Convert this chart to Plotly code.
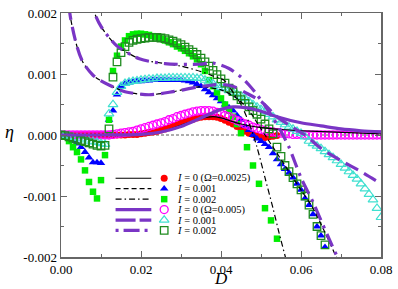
import plotly.graph_objects as go

# ---------------- data ----------------
# Simulation markers, Omega = 0.0025 (filled)
D_red = [0.000,0.001,0.002,0.003,0.004,0.005,0.006,0.007,0.008,0.009,0.010,0.011,0.012,0.013,0.014,0.015,0.016,0.017,0.018,0.019,
         0.020,0.021,0.022,0.023,0.024,0.025,0.026,0.027,0.028,0.029,0.030,0.031,0.032,0.033,0.034,0.035,0.036,0.037,0.038,0.039,
         0.040,0.041,0.042,0.043,0.044,0.045,0.046,0.047,0.048,0.049,0.050,0.051,0.052,0.053,0.054]
eta_red = [0,0,0,0,0,0,0,0,0,0,0,0,0,0,0,0,0,0.00001,0.00001,0.00001,
           0.00002,0.00003,0.00004,0.00005,0.00006,0.00008,0.0001,0.00012,0.00014,0.00017,0.0002,0.00022,0.00024,0.00026,0.00028,0.00029,0.0003,0.0003,0.0003,0.00029,
           0.00027,0.00024,0.00021,0.00018,0.00014,0.0001,0.00006,0.00003,0.00001,-0.00002,-0.00003,-0.00004,-0.00003,-0.00002,-0.00001]

D_blue = [0.000,0.001,0.002,0.003,0.004,0.005,0.006,0.007,0.008,0.009,0.010,0.012,0.013,0.014,0.015,0.016,0.017,0.018,0.019,0.020,
          0.021,0.022,0.023,0.024,0.025,0.026,0.027,0.028,0.029,0.030,0.031,0.032,0.033,0.034,0.035,0.036,0.037,0.038,0.039,0.040,
          0.041,0.042,0.043,0.044,0.045,0.046,0.047,0.048,0.049,0.050,0.051,0.052,0.053,0.054,0.055,0.056,0.057,0.058,0.059,0.060,
          0.061,0.062,0.063,0.064,0.065,0.066]
eta_blue = [0,-0.00002,-0.00005,-0.0001,-0.00014,-0.0002,-0.00028,-0.00037,-0.00045,-0.00045,-0.00046,0.00025,0.0004,0.00066,0.0008,0.00084,0.00086,0.00087,0.00088,0.00088,
            0.00089,0.00089,0.0009,0.0009,0.0009,0.0009,0.0009,0.0009,0.0009,0.0009,0.00089,0.00088,0.00086,0.00083,0.0008,0.00075,0.0007,0.00065,0.0006,0.00055,
            0.0005,0.00045,0.0004,0.00032,0.00025,0.00015,0.00008,0.0,-0.00006,-0.0001,-0.00015,-0.0002,-0.0003,-0.0004,-0.00048,-0.00056,-0.00062,-0.0007,-0.0008,-0.0009,
            -0.00104,-0.00115,-0.0013,-0.0015,-0.00165,-0.00184]

D_green = [0.000,0.001,0.002,0.003,0.004,0.005,0.006,0.007,0.008,0.009,0.010,0.011,0.012,0.013,0.014,0.015,0.016,0.017,0.018,0.019,
           0.020,0.021,0.022,0.023,0.024,0.025,0.026,0.027,0.028,0.029,0.030,0.031,0.032,0.033,0.034,0.035,0.036,0.037,0.038,0.039,
           0.040,0.041,0.042,0.043,0.044,0.045,0.0465,0.048,0.0495,0.051,0.0525,0.054]
eta_green = [0,-0.00002,-0.0001,-0.0002,-0.00028,-0.0004,-0.00058,-0.00077,-0.00093,-0.00104,-0.00074,-0.00033,0.00025,0.00105,0.0013,0.00145,0.00155,0.00162,0.00165,0.00166,
             0.00166,0.00165,0.00164,0.00162,0.0016,0.00158,0.00155,0.00152,0.00149,0.00145,0.00142,0.00138,0.00134,0.00129,0.00124,0.00116,0.00105,0.0009,0.0008,0.0007,
             0.0006,0.0005,0.0004,0.0003,0.00018,0.00003,-0.0002,-0.0005,-0.0008,-0.0012,-0.0014,-0.0017]

# Simulation markers, Omega = 0.005 (open)
D_mag = [0.000,0.001,0.002,0.003,0.004,0.005,0.006,0.007,0.008,0.009,0.010,0.011,0.012,0.013,0.014,0.015,0.016,0.017,0.018,0.019,
         0.020,0.021,0.022,0.023,0.024,0.025,0.026,0.027,0.028,0.029,0.030,0.031,0.032,0.033,0.034,0.035,0.036,0.037,0.038,0.039,
         0.040,0.041,0.042,0.043,0.044,0.045,0.046,0.047,0.048,0.049,0.050,0.051,0.052,0.053,0.054,0.055,0.056,0.057,0.058,0.059,
         0.060,0.061,0.062,0.063,0.064,0.065,0.066,0.067,0.068,0.069,0.070,0.071,0.072,0.073,0.074,0.075,0.076,0.077,0.078,0.079,0.080]
eta_mag = [0,0,0,0,0,0,0,0,0,0,0,0,0,0.00001,0.00002,0.00003,0.00004,0.00005,0.00006,0.00008,
           0.0001,0.00012,0.00014,0.00016,0.00018,0.0002,0.00022,0.00025,0.00027,0.0003,0.00032,0.00034,0.00036,0.00038,0.00039,0.0004,0.0004,0.0004,0.00039,0.00037,
           0.00035,0.00032,0.0003,0.00027,0.00024,0.00021,0.00018,0.00016,0.00013,0.00011,0.00009,0.00007,0.00006,0.00005,0.00004,0.00003,0.00002,0.00002,0.00001,0.00001,
           0.00001,0,0,0,0,0,0,0,0,0,0,0,0,0,0,0,0,0,0,0,0]

D_cyan = [0.000,0.001,0.002,0.003,0.004,0.005,0.006,0.007,0.008,0.009,0.010,0.011,0.012,0.013,0.014,0.015,0.016,0.017,0.018,0.019,
          0.020,0.021,0.022,0.023,0.024,0.025,0.026,0.027,0.028,0.029,0.030,0.031,0.032,0.033,0.034,0.035,0.036,0.037,0.038,0.039,
          0.040,0.041,0.042,0.043,0.044,0.045,0.046,0.047,0.048,0.049,0.050,0.051,0.052,0.053,0.054,0.055,0.056,0.057,0.058,0.059,
          0.060,0.061,0.062,0.063,0.064,0.065,0.066,0.067,0.068,0.069,0.070,0.071,0.072,0.073,0.074,0.075,0.076,0.077,0.078,0.079,0.080]
eta_cyan = [0,-0.00001,-0.00002,-0.00004,-0.00005,-0.00006,-0.00008,-0.0001,-0.00011,-0.00012,-0.00014,-0.00015,0.00035,0.0005,0.0007,0.0008,0.00085,0.00087,0.00088,0.00089,
            0.0009,0.00091,0.00092,0.00092,0.00093,0.00093,0.00093,0.00094,0.00094,0.00094,0.00094,0.00094,0.00094,0.00094,0.00093,0.00093,0.0009,0.00087,0.00084,0.00081,
            0.00078,0.00076,0.00073,0.0007,0.00067,0.00064,0.0006,0.00055,0.0005,0.00046,0.00042,0.00038,0.00034,0.0003,0.00025,0.00021,0.00017,0.00013,0.0001,0.00006,
            0.00003,-0.00003,-0.0001,-0.00014,-0.00018,-0.00022,-0.00027,-0.00032,-0.00037,-0.00042,-0.00048,-0.00054,-0.0006,-0.00066,-0.00072,-0.0008,-0.00088,-0.00097,-0.00106,-0.0012,-0.00135]

D_dkg = [0.000,0.001,0.002,0.003,0.004,0.005,0.006,0.007,0.008,0.009,0.010,0.011,0.012,0.013,0.014,0.015,0.016,0.017,0.018,0.019,
         0.020,0.021,0.022,0.023,0.024,0.025,0.026,0.027,0.028,0.029,0.030,0.031,0.032,0.033,0.034,0.035,0.036,0.037,0.038,0.039,
         0.040,0.041,0.042,0.043,0.044,0.045,0.046,0.047,0.048,0.049,0.050,0.051,0.052,0.053,0.054,0.055,0.056,0.057,0.058,0.059,
         0.060,0.061,0.062,0.063,0.064,0.065,0.066]
eta_dkg = [0,-0.00001,-0.00003,-0.00005,-0.00007,-0.00009,-0.00011,-0.00013,-0.00015,-0.00017,-0.00018,-0.00017,0.0001,0.00095,0.0012,0.00135,0.00145,0.00152,0.00155,0.00157,
           0.00158,0.00159,0.0016,0.0016,0.0016,0.00159,0.00158,0.00156,0.00154,0.00151,0.00148,0.00144,0.0014,0.00136,0.00132,0.00126,0.0012,0.00113,0.00106,0.00099,
           0.00092,0.00085,0.00077,0.00071,0.00064,0.00058,0.00052,0.00046,0.0004,0.00034,0.00026,0.00018,0.0001,0.00002,-0.0002,-0.00035,-0.0005,-0.0006,-0.0007,-0.0008,
           -0.0009,-0.001,-0.00115,-0.0013,-0.0015,-0.00165,-0.0018]

# Theory curves, Omega = 0.0025 (black)
D_th0a = [0.0,0.01,0.02,0.025,0.03,0.035,0.038,0.04,0.042,0.045,0.05,0.055,0.06,0.067,0.08]
eta_th0a = [0,0,0.00001,0.00005,0.00016,0.00027,0.0003,0.00028,0.00024,0.00018,0.00012,0.00009,0.00007,0.00005,0.00002]

D_th1a = [0.0015,0.0022,0.004,0.0055,0.008,0.0097,0.012,0.016,0.022,0.028,0.0345,0.04,0.044,0.047,0.05,0.053,0.056,0.06,0.063,0.066,0.0695]
eta_th1a = [0.0028,0.002,0.00145,0.00119,0.00098,0.0009,0.00082,0.00071,0.00066,0.00071,0.00079,0.00074,0.0006,0.0004,0.0001,-0.0002,-0.0005,-0.0009,-0.0012,-0.0016,-0.0021]

D_th2a = [0.007,0.0084,0.01,0.012,0.014,0.0196,0.026,0.03,0.035,0.0375,0.0407,0.043,0.045,0.047,0.049,0.051,0.053,0.0545,0.0565]
eta_th2a = [0.0024,0.002,0.00178,0.0016,0.00146,0.00125,0.00117,0.00113,0.00104,0.00098,0.0009,0.0007,0.0005,0.0002,-0.0002,-0.0007,-0.0012,-0.0016,-0.0021]

# Theory curves, Omega = 0.005 (purple)
D_th0b = [0.0,0.01,0.02,0.025,0.03,0.035,0.04,0.043,0.046,0.05,0.054,0.06,0.065,0.07,0.075,0.08]
eta_th0b = [0,0,0.00001,0.00005,0.00014,0.00028,0.00042,0.00046,0.00045,0.00039,0.0003,0.0002,0.00015,0.0001,0.00007,0.00005]

D_th1b = [0.0015,0.0022,0.004,0.0055,0.008,0.0097,0.012,0.016,0.022,0.028,0.0345,0.04,0.043,0.046,0.05,0.054,0.058,0.061,0.065,0.07,0.075,0.08]
eta_th1b = [0.0028,0.002,0.00145,0.00119,0.00098,0.0009,0.00082,0.00071,0.00066,0.00071,0.00079,0.00083,0.0008,0.0007,0.00055,0.0003,0.00012,0.0,-0.00022,-0.00042,-0.0006,-0.0008]

D_th2b = [0.007,0.0084,0.01,0.012,0.014,0.0196,0.026,0.0345,0.038,0.042,0.045,0.047,0.049,0.051,0.053,0.055,0.057,0.06,0.063,0.065,0.067,0.0705]
eta_th2b = [0.0024,0.002,0.00178,0.0016,0.00146,0.00125,0.00117,0.00116,0.00118,0.00109,0.00095,0.00082,0.00066,0.00048,0.00028,0.00006,-0.0002,-0.0007,-0.0011,-0.0014,-0.0017,-0.0022]

legend_labels = ["<i>I</i> = 0 (Ω=0.0025)", "<i>I</i> = 0.001", "<i>I</i> = 0.002",
                 "<i>I</i> = 0 (Ω=0.005)", "<i>I</i> = 0.001", "<i>I</i> = 0.002"]

x_ticks = [0.00, 0.02, 0.04, 0.06, 0.08]
x_ticktext = ["0.00", "0.02", "0.04", "0.06", "0.08"]
y_ticks = [-0.002, -0.001, 0.0, 0.001, 0.002]
y_ticktext = ["-0.002", "-0.001", "0.000", "0.001", "0.002"]

# ---------------- styling ----------------
PURPLE = "#7a35c5"
FONT = "Liberation Serif"
W, H = 398, 289
L, R, T, B = 61, 14.5, 6, 32

fig = go.Figure()

# zero reference line
fig.add_hline(y=0, line=dict(color="#333333", width=0.8, dash="3px,2px"), layer="below")

def line_trace(x, y, color, width, dash):
    return go.Scatter(x=x, y=y, mode="lines", line=dict(color=color, width=width, dash=dash, shape="spline", smoothing=0.8),
                      showlegend=False, hoverinfo="skip")

def marker_style(symbol, color, size, lw):
    return dict(symbol=symbol, size=size, color=color, line=dict(color=color, width=lw))

def marker_trace(x, y, symbol, color, size, lw=0):
    return go.Scatter(x=x, y=y, mode="markers", marker=marker_style(symbol, color, size, lw),
                      showlegend=False, hoverinfo="skip", cliponaxis=True)

# markers
fig.add_trace(marker_trace(D_red, eta_red, "circle", "#ff0000", 7))
fig.add_trace(marker_trace(D_blue, eta_blue, "triangle-up", "#0000ff", 7.5))
fig.add_trace(marker_trace(D_green, eta_green, "square", "#00ee00", 6.5))
fig.add_trace(marker_trace(D_mag, eta_mag, "circle-open", "#ff00ff", 8, lw=1.3))
fig.add_trace(marker_trace(D_cyan, eta_cyan, "triangle-up-open", "#40e0d0", 8.5, lw=1.2))
fig.add_trace(marker_trace(D_dkg, eta_dkg, "square-open", "#1e8b1e", 7.5, lw=1.3))

# theory lines
DASH_B = "5px,3px"
DDOT_B = "6px,3px,1.5px,3px"
LDASH_P = "14px,7px"
DDOT_P = "14px,6px,3px,6px"
fig.add_trace(line_trace(D_th0a, eta_th0a, "black", 1.2, "solid"))
fig.add_trace(line_trace(D_th1a, eta_th1a, "black", 1.2, DASH_B))
fig.add_trace(line_trace(D_th2a, eta_th2a, "black", 1.2, DDOT_B))
fig.add_trace(line_trace(D_th0b, eta_th0b, PURPLE, 3.2, "solid"))
fig.add_trace(line_trace(D_th1b, eta_th1b, PURPLE, 3.2, LDASH_P))
fig.add_trace(line_trace(D_th2b, eta_th2b, PURPLE, 3.2, DDOT_P))

# ---------------- custom legend (pixel layout) ----------------
pw = W - L - R
ph = H - T - B
def px2paper_x(px):
    return (px - L) / pw
def px2paper_y(py):
    return (H - B - py) / ph

rows_y = [176, 186.7, 197.5, 208.2, 219, 229.7]
line_styles = [("black", 1.2, "solid"), ("black", 1.2, DASH_B), ("black", 1.2, DDOT_B),
               (PURPLE, 3.2, "solid"), (PURPLE, 3.2, "20px,4px"), (PURPLE, 3.2, "3px,5px,16px,5px")]
mk_styles = [("circle", "#ff0000", 7, 0), ("triangle-up", "#0000ff", 7.5, 0),
             ("square", "#00ee00", 6.5, 0), ("circle-open", "#ff00ff", 8, 1.3),
             ("triangle-up-open", "#40e0d0", 8.5, 1.2), ("square-open", "#1e8b1e", 7.5, 1.3)]

for yy, (c, w, d) in zip(rows_y, line_styles):
    fig.add_shape(type="line", xref="paper", yref="paper",
                  x0=px2paper_x(116), x1=px2paper_x(152), y0=px2paper_y(yy), y1=px2paper_y(yy),
                  line=dict(color=c, width=w, dash=d))

for yy, (sym, c, s, lw), lab in zip(rows_y, mk_styles, legend_labels):
    fig.add_trace(go.Scatter(x=[px2paper_x(165)], y=[px2paper_y(yy)], xaxis="x2", yaxis="y2", mode="markers",
                             marker=marker_style(sym, c, s, lw), showlegend=False, hoverinfo="skip"))
    fig.add_annotation(x=px2paper_x(176), y=px2paper_y(yy), xref="paper", yref="paper", text=lab,
                       showarrow=False, xanchor="left", yanchor="middle",
                       font=dict(family=FONT, size=10.5, color="black"))

# axis titles
fig.add_annotation(x=px2paper_x(222), y=px2paper_y(279), xref="paper", yref="paper", text="<i>D</i>",
                   showarrow=False, xanchor="center", yanchor="middle", font=dict(family=FONT, size=17, color="black"))
fig.add_annotation(x=px2paper_x(9), y=px2paper_y(128), xref="paper", yref="paper", text="<i>η</i>",
                   showarrow=False, xanchor="center", yanchor="middle", font=dict(family=FONT, size=18, color="black"))

AX = "#666666"
fig.update_layout(
    width=W, height=H,
    margin=dict(l=L, r=R, t=T, b=B, pad=0),
    paper_bgcolor="white", plot_bgcolor="white",
    font=dict(family=FONT, size=13, color="black"),
    xaxis=dict(range=[0, 0.08], tickvals=x_ticks, ticktext=x_ticktext, ticks="inside", ticklen=6, tickwidth=1,
               tickcolor=AX, showline=True, linecolor=AX, linewidth=1.5, mirror="allticks", showgrid=False,
               zeroline=False, minor=dict(dtick=0.01, ticks="inside", ticklen=3, tickcolor=AX, showgrid=False),
               tickfont=dict(family=FONT, size=13)),
    yaxis=dict(range=[-0.002, 0.002], tickvals=y_ticks, ticktext=y_ticktext, ticks="inside", ticklen=6, tickwidth=1,
               tickcolor=AX, showline=True, linecolor=AX, linewidth=1.5, mirror="allticks", showgrid=False,
               zeroline=False, minor=dict(dtick=0.0005, ticks="inside", ticklen=3, tickcolor=AX, showgrid=False),
               tickfont=dict(family=FONT, size=13)),
    xaxis2=dict(range=[0, 1], overlaying="x", visible=False, fixedrange=True),
    yaxis2=dict(range=[0, 1], overlaying="y", visible=False, fixedrange=True),
    showlegend=False,
)

fig.write_html("out.html", config={"displayModeBar": False, "staticPlot": True},
               post_script="document.body.style.margin='0';document.body.style.overflow='hidden';")
